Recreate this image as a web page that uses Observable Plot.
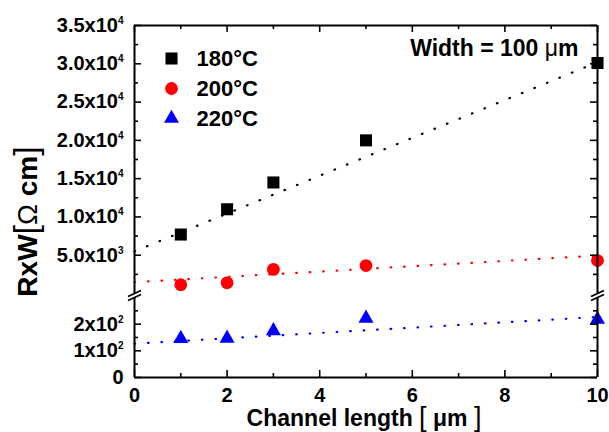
<!DOCTYPE html>
<html><head><meta charset="utf-8">
<script src="https://cdn.jsdelivr.net/npm/d3@7"></script>
<script src="https://cdn.jsdelivr.net/npm/@observablehq/plot@0.6"></script>
<style>html,body{margin:0;padding:0;background:#fff}</style>
</head><body><div id="chart"></div>
<script>
// ---- data ----
const lengths = [1, 2, 3, 5, 10];                 // Channel length (µm)
const series = ["180°C", "200°C", "220°C"];
const r180 = [7700, 11000, 14500, 20000, 30100];  // RxW (Ω cm)
const r200 = [1150, 1400, 3150, 3650, 4300];
const r220 = [146, 147, 175, 222, 218];
const fitX = [0, 10];
const fit180 = [5500, 30200];
const fit200 = [1480, 4950];
const fit220 = [127, 227];
const upperMajor = [5000, 10000, 15000, 20000, 25000, 30000, 35000];
const upperLabels = ["5.0x10^3", "1.0x10^4", "1.5x10^4", "2.0x10^4", "2.5x10^4", "3.0x10^4", "3.5x10^4"];
const upperMinor = [2500, 7500, 12500, 17500, 22500, 27500, 32500];
const lowerMajor = [0, 100, 200];
const lowerLabels = ["0", "1x10^2", "2x10^2"];
const lowerMinor = [50, 150, 250];
const xMajor = [0, 2, 4, 6, 8, 10];
const xMinor = [1, 3, 5, 7, 9];

// ---- style ----
const colors = ["#000000", "#ff0000", "#0000ff"];
const symbols = ["square", "circle", "triangle"];
const radii = [6.8, 6.4, 5.6];
const segOf = ["up", "up", "low"];
const FONT = "'Liberation Sans', Arial, Helvetica, sans-serif";

// broken axis: lower segment 0–300, upper segment 0–35000 (virtual y in px units)
const LOW_MAX = 300, UP_MAX = 35000, LOW_LEN = 80, GAP = 4, UP_LEN = 268;
const brk = (v, seg) => seg === "low" ? v / LOW_MAX * LOW_LEN : LOW_LEN + GAP + v / UP_MAX * UP_LEN;
const Y_TOP = brk(UP_MAX, "up");
const XMAX = 10;
const PX_PER_X = (609 - 134 - 12) / XMAX;

const vals = [r180, r200, r220];
const fits = [fit180, fit200, fit220];
const points = [], fitRows = [];
series.forEach((s, i) => {
  lengths.forEach((x, j) => points.push({s, i, x, y: brk(vals[i][j], segOf[i])}));
  fitX.forEach((x, j) => fitRows.push({s, i, x, y: brk(fits[i][j], segOf[i])}));
});

const labelMap = new Map();
upperMajor.forEach((v, k) => labelMap.set(brk(v, "up"), upperLabels[k]));
lowerMajor.forEach((v, k) => labelMap.set(brk(v, "low"), lowerLabels[k]));
const yMajor = [...lowerMajor.map(v => brk(v, "low")), ...upperMajor.map(v => brk(v, "up"))];
const yMinor = [...lowerMinor.map(v => brk(v, "low")), ...upperMinor.map(v => brk(v, "up"))];

const sideRows = [];
for (const x of [0, XMAX]) {
  sideRows.push({x, y1: 0, y2: LOW_LEN});
  sideRows.push({x, y1: LOW_LEN + GAP, y2: Y_TOP});
}
const SL = 6.5 / PX_PER_X;
const slashRows = [];
for (const x of [0, XMAX]) for (const yv of [LOW_LEN, LOW_LEN + GAP])
  slashRows.push({x1: x - SL, x2: x + SL, y1: yv - 3, y2: yv + 3});

// tick rows (inward ticks on all four sides)
const MAJ = 7, MIN = 4;
const yTickRows = [];
for (const [arr, len] of [[yMajor, MAJ], [yMinor, MIN]]) for (const y of arr) {
  yTickRows.push({y, x1: 0, x2: len / PX_PER_X});
  yTickRows.push({y, x1: XMAX - len / PX_PER_X, x2: XMAX});
}
const xTickRows = [];
for (const [arr, len] of [[xMajor, MAJ], [xMinor, MIN]]) for (const x of arr) {
  xTickRows.push({x, y1: 0, y2: len});
  xTickRows.push({x, y1: Y_TOP - len, y2: Y_TOP});
}

const marks = [];
// fit lines
series.forEach((s, i) => {
  marks.push(Plot.line(fitRows.filter(d => d.i === i), {x: "x", y: "y", stroke: colors[i], strokeWidth: 2.2, strokeDasharray: "0.6,12.9", strokeLinecap: "round"}));
});
// points
series.forEach((s, i) => {
  marks.push(Plot.dot(points.filter(d => d.i === i), {x: "x", y: "y", symbol: symbols[i], fill: colors[i], r: radii[i], stroke: "none"}));
});
// frame
marks.push(Plot.ruleY([0, Y_TOP], {stroke: "black", strokeWidth: 2}));
marks.push(Plot.ruleX(sideRows, {x: "x", y1: "y1", y2: "y2", stroke: "black", strokeWidth: 2}));
marks.push(Plot.link(slashRows, {x1: "x1", y1: "y1", x2: "x2", y2: "y2", stroke: "black", strokeWidth: 1.8}));
// ticks
marks.push(Plot.ruleY(yTickRows, {y: "y", x1: "x1", x2: "x2", stroke: "black", strokeWidth: 1.6}));
marks.push(Plot.ruleX(xTickRows, {x: "x", y1: "y1", y2: "y2", stroke: "black", strokeWidth: 1.6}));
// tick labels
marks.push(Plot.text(yMajor, {y: d => d, text: d => labelMap.get(d), frameAnchor: "left", dx: -11, textAnchor: "end", fontSize: 20}));
marks.push(Plot.text(xMajor, {x: d => d, text: d => String(d), frameAnchor: "bottom", dy: 10, lineAnchor: "top", fontSize: 20}));
// legend
series.forEach((s, i) => {
  marks.push(Plot.dot([s], {frameAnchor: "top-left", dx: 37, dy: 33 + 30 * i, symbol: symbols[i], fill: colors[i], r: radii[i], stroke: "none"}));
  marks.push(Plot.text([s], {text: d => d, frameAnchor: "top-left", dx: 62, dy: 33 + 30 * i, textAnchor: "start", lineAnchor: "middle", fontSize: 22}));
});
marks.push(Plot.text(["Width = 100 μm"], {text: d => d, frameAnchor: "top-right", dx: -19, dy: 23, textAnchor: "end", lineAnchor: "middle", fontSize: 23}));
// axis titles
marks.push(Plot.text(["RxW[Ω cm]"], {text: d => d, frameAnchor: "left", rotate: -90, dx: -106, dy: 20, textAnchor: "middle", lineAnchor: "middle", fontSize: 28}));
marks.push(Plot.text(["Channel length [ μm ]"], {text: d => d, frameAnchor: "bottom", dx: -2, dy: 41, textAnchor: "middle", lineAnchor: "middle", fontSize: 23}));

const svg = Plot.plot({
  width: 609, height: 432,
  marginLeft: 134, marginRight: 12, marginTop: 25, marginBottom: 55,
  style: {fontFamily: FONT, fontWeight: "bold", fontSize: "20px", color: "black", background: "white", overflow: "visible"},
  x: {domain: [0, XMAX], axis: null},
  y: {domain: [0, Y_TOP], axis: null},
  marks
});

// superscripts and thin brackets
const NS = "http://www.w3.org/2000/svg";
function rebuild(t, parts) {
  t.textContent = "";
  for (const p of parts) {
    const ts = document.createElementNS(NS, "tspan");
    ts.textContent = p.t;
    if (p.w) ts.setAttribute("font-weight", p.w);
    if (p.fs) ts.setAttribute("font-size", p.fs);
    if (p.dy != null) ts.setAttribute("dy", p.dy);
    t.appendChild(ts);
  }
}
svg.querySelectorAll("text").forEach(t => {
  const s = t.textContent;
  if (s.includes("^")) {
    const [base, sup] = s.split("^");
    rebuild(t, [{t: base}, {t: sup, fs: 10, dy: -8}]);
  } else if (s === "RxW[Ω cm]") {
    rebuild(t, [{t: "RxW"}, {t: "[", w: "normal", fs: 34}, {t: "Ω", w: "normal"}, {t: " cm"}, {t: "]", w: "normal", fs: 34}]);
  } else if (s === "Channel length [ μm ]") {
    rebuild(t, [{t: "Channel length "}, {t: "[", w: "normal", fs: 27}, {t: " μm "}, {t: "]", w: "normal", fs: 27}]);
  } else if (s === "Width = 100 μm") {
    rebuild(t, [{t: "Width = 100 "}, {t: "μ", w: "normal"}, {t: "m"}]);
  }
});
document.getElementById("chart").appendChild(svg);
</script>
</body></html>
